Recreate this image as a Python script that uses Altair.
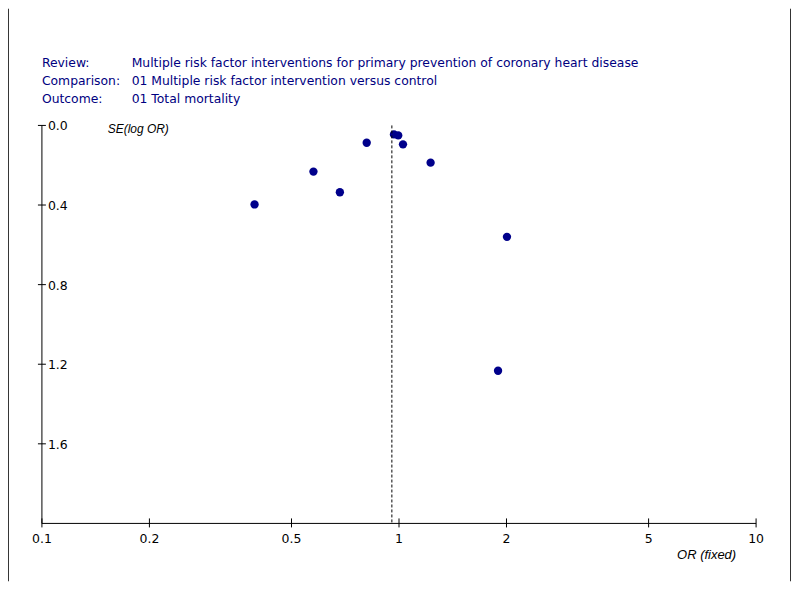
import altair as alt
import pandas as pd

# ---- data ----
odds_ratio = [0.394, 0.576, 0.683, 0.812, 0.968, 0.995, 1.026, 1.226, 2.006, 1.894]
se_log_or = [0.397, 0.232, 0.336, 0.087, 0.045, 0.050, 0.095, 0.187, 0.560, 1.233]
pooled_or = [0.955]

x_ticks = [0.1, 0.2, 0.5, 1, 2, 5, 10]
x_tick_labels = ["0.1", "0.2", "0.5", "1", "2", "5", "10"]
y_ticks = [0.0, 0.4, 0.8, 1.2, 1.6]
y_tick_labels = ["0.0", "0.4", "0.8", "1.2", "1.6"]

header_keys = ["Review:", "Comparison:", "Outcome:"]
header_values = [
    "Multiple risk factor interventions for primary prevention of coronary heart disease",
    "01 Multiple risk factor intervention versus control",
    "01 Total mortality",
]

FONT = "Liberation Sans"
HFONT = "DejaVu Sans"
NAVY = "#000080"
W, H = 716, 399

xs = alt.Scale(type="log", domain=[0.1, 10])
ys = alt.Scale(domain=[0, 2], reverse=True)

pts = pd.DataFrame({"OR": odds_ratio, "SE": se_log_or})
points = alt.Chart(pts).mark_circle(size=70, color="#00008B", opacity=1).encode(
    x=alt.X("OR:Q", scale=xs, axis=None),
    y=alt.Y("SE:Q", scale=ys, axis=None),
)

one = pd.DataFrame({"k": [0]})

# axis lines
y_axis_line = alt.Chart(one).mark_rule(color="black", strokeWidth=1).encode(
    x=alt.value(0), y=alt.value(0), y2=alt.value(H)
)
x_axis_line = alt.Chart(one).mark_rule(color="black", strokeWidth=1).encode(
    y=alt.value(H), x=alt.value(0), x2=alt.value(W)
)

pool_df = pd.DataFrame({"OR": pooled_or, "SE": [0.0], "SE_end": [2.0]})
pooled = alt.Chart(pool_df).mark_rule(color="black", strokeDash=[3, 2], strokeWidth=1).encode(
    x=alt.X("OR:Q", axis=None), y=alt.Y("SE:Q", axis=None), y2="SE_end:Q"
)

xt = pd.DataFrame({"OR": x_ticks, "label": x_tick_labels})
xtick_marks = alt.Chart(xt).mark_rule(color="black", strokeWidth=1).encode(
    x=alt.X("OR:Q", axis=None), y=alt.value(H - 5), y2=alt.value(H + 4)
)
xtick_text = alt.Chart(xt).mark_text(font=HFONT, fontSize=12.5, color="black", align="center",
                                     baseline="middle").encode(
    x=alt.X("OR:Q", axis=None), y=alt.value(H + 16), text="label:N"
)

yt = pd.DataFrame({"SE": y_ticks, "label": y_tick_labels})
ytick_marks = alt.Chart(yt).mark_rule(color="black", strokeWidth=1).encode(
    y=alt.Y("SE:Q", axis=None), x=alt.value(-4), x2=alt.value(4)
)
ytick_text = alt.Chart(yt).mark_text(font=HFONT, fontSize=12.5, color="black", align="left",
                                     baseline="middle", dy=1).encode(
    y=alt.Y("SE:Q", axis=None), x=alt.value(6), text="label:N"
)

y_title = alt.Chart(one).mark_text(text="SE(log OR)", font=FONT, fontSize=12, fontStyle="italic",
                                   color="black", align="left", baseline="middle").encode(
    x=alt.value(66), y=alt.value(4)
)
x_title = alt.Chart(one).mark_text(text="OR (fixed)", font=FONT, fontSize=13, fontStyle="italic",
                                   color="black", align="right", baseline="middle").encode(
    x=alt.value(696), y=alt.value(431)
)

header_layers = []
for i, (k, v) in enumerate(zip(header_keys, header_values)):
    yy = -63 + 18.5 * i
    header_layers.append(
        alt.Chart(one).mark_text(text=k, font=HFONT, fontSize=12.4, color=NAVY, align="left",
                                 baseline="middle").encode(x=alt.value(0), y=alt.value(yy))
    )
    header_layers.append(
        alt.Chart(one).mark_text(text=v, font=HFONT, fontSize=12.4, color=NAVY, align="left",
                                 baseline="middle").encode(x=alt.value(90), y=alt.value(yy))
    )

borders = [
    alt.Chart(one).mark_rule(color="#333333", strokeWidth=1).encode(
        x=alt.value(bx), y=alt.value(-117), y2=alt.value(457)
    )
    for bx in (-33.5, 750.5)
]

chart = alt.layer(
    points, pooled, y_axis_line, x_axis_line, xtick_marks, xtick_text, ytick_marks, ytick_text,
    y_title, x_title, *header_layers, *borders
).properties(
    width=W, height=H,
    autosize=alt.AutoSizeParams(type="none"),
    padding={"left": 34, "top": 117, "right": 36, "bottom": 58},
    background="white",
).configure_view(stroke=None)

chart.save("out.html", embed_options={"renderer": "svg", "actions": False})
